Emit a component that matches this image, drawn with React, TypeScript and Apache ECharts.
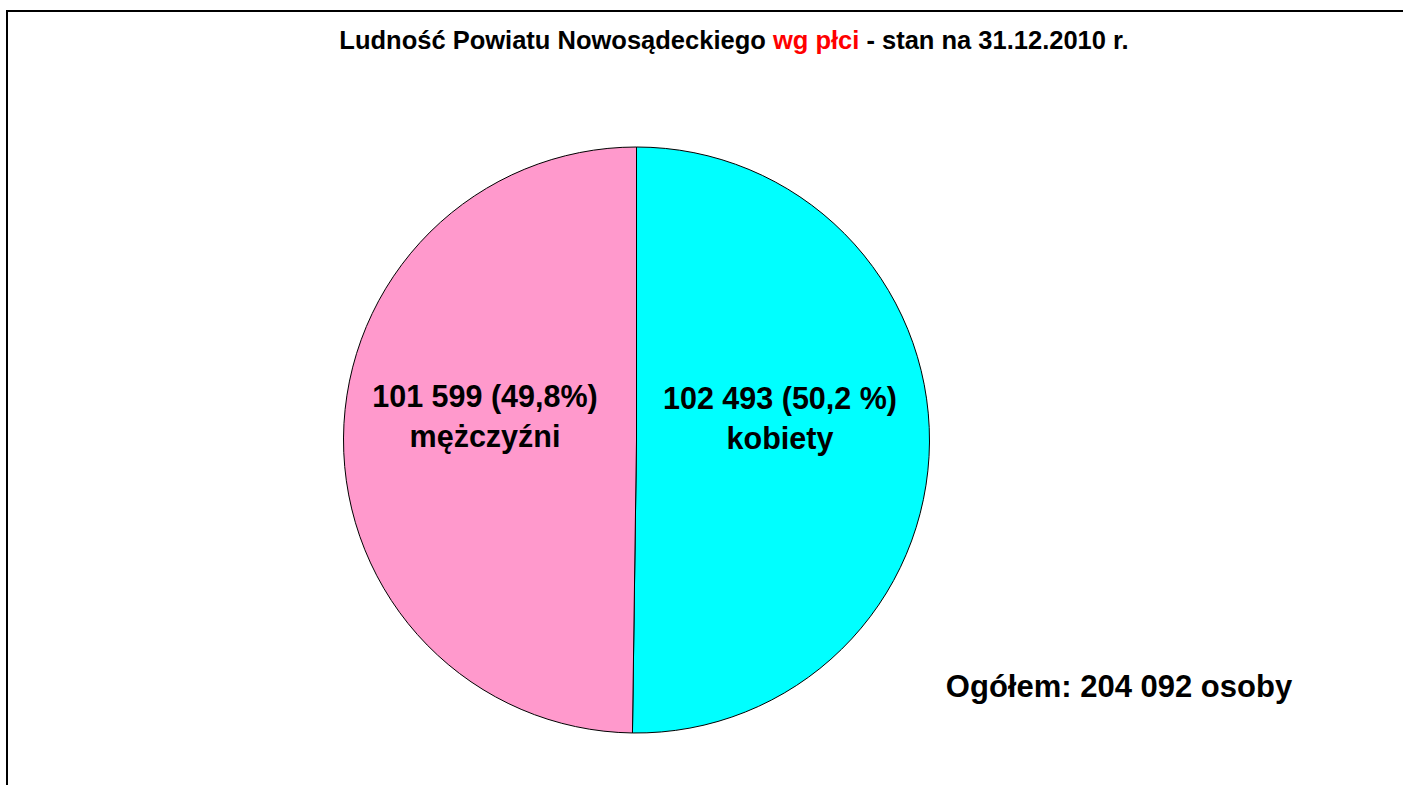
import React, { useEffect, useRef } from "react";
import * as echarts from "echarts";

const categories = ["kobiety", "mężczyźni"];
const values = [102493, 101599];
const percentLabels = ["50,2 %", "49,8%"];
const valueLabels = ["102 493", "101 599"];
const colors = ["#00FFFF", "#FF99CC"];
const totalLabel = "Ogółem: 204 092 osoby";
const titleParts = ["Ludność Powiatu Nowosądeckiego ", "wg płci", " - stan na 31.12.2010 r."];

const FONT = "'Liberation Sans', Arial, sans-serif";
const labelOffsets = [[-6, -23], [-2, -23]];

export default function App() {
  const ref = useRef<HTMLDivElement>(null);
  useEffect(() => {
    if (!ref.current) return;
    const chart = echarts.init(ref.current, undefined, { renderer: "svg" });
    chart.setOption({
      animation: false,
      backgroundColor: "#ffffff",
      graphic: [
        {
          type: "rect",
          shape: { x: 7, y: 11, width: 1500, height: 900 },
          style: { fill: "none", stroke: "#000", lineWidth: 2 },
          silent: true,
        },
        {
          type: "text",
          x: 734,
          y: 40,
          style: {
            text: `{b|${titleParts[0]}}{r|${titleParts[1]}}{b|${titleParts[2]}}`,
            align: "center",
            verticalAlign: "middle",
            rich: {
              b: { fontFamily: FONT, fontWeight: "bold", fontSize: 25.5, fill: "#000" },
              r: { fontFamily: FONT, fontWeight: "bold", fontSize: 25.5, fill: "#FF0000" },
            },
          },
        },
        {
          type: "text",
          x: 1119,
          y: 686,
          style: {
            text: totalLabel,
            align: "center",
            verticalAlign: "middle",
            fontFamily: FONT,
            fontWeight: "bold",
            fontSize: 31,
            fill: "#000",
          },
        },
      ],
      series: [
        {
          type: "pie",
          center: [636.5, 440],
          radius: [0, 293],
          startAngle: 90,
          clockwise: true,
          avoidLabelOverlap: false,
          itemStyle: { borderColor: "#000", borderWidth: 1 },
          label: {
            show: true,
            position: "inside",
            fontFamily: FONT,
            fontWeight: "bold",
            fontSize: 30.5,
            lineHeight: 40,
            color: "#000",
            formatter: (p: any) => `${valueLabels[p.dataIndex]} (${percentLabels[p.dataIndex]})\n${categories[p.dataIndex]}`,
          },
          labelLine: { show: false },
          emphasis: { disabled: true },
          data: categories.map((c, i) => ({
            name: c,
            value: values[i],
            itemStyle: { color: colors[i] },
            label: { offset: labelOffsets[i] },
          })),
        },
      ],
    });
    return () => chart.dispose();
  }, []);
  return (
    <div
      ref={ref}
      style={{ position: "absolute", left: 0, top: 0, width: 1403, height: 785 }}
    />
  );
}
